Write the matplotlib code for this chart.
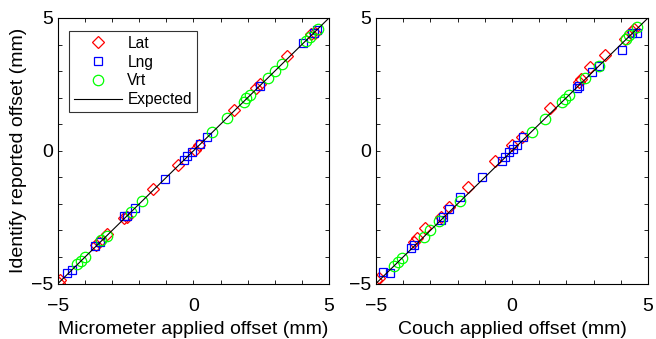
import matplotlib
matplotlib.use("Agg")
import matplotlib.pyplot as plt
from matplotlib.ticker import MultipleLocator, FixedLocator

plt.rcParams['font.family'] = ['Liberation Sans', 'DejaVu Sans']

# ---- data: Micrometer (left) ----
mic_lat_x = [-4.98, -4.92, -3.6, -3.5, -3.2, -2.55, -2.45, -1.5, -0.58, 0.05, 0.22, 1.5, 2.3, 2.45, 3.45, 4.35, 4.5]
mic_lat_y = [-4.98, -4.88, -3.55, -3.45, -3.12, -2.55, -2.5, -1.45, -0.55, 0.02, 0.2, 1.55, 2.35, 2.5, 3.55, 4.38, 4.45]
mic_lng_x = [-4.65, -4.5, -3.65, -3.45, -2.55, -2.45, -2.15, -1.05, -0.35, -0.25, -0.05, 0.25, 0.5, 2.45, 4.05, 4.45, 4.55]
mic_lng_y = [-4.6, -4.5, -3.6, -3.45, -2.45, -2.45, -2.15, -1.05, -0.35, -0.2, -0.05, 0.25, 0.5, 2.45, 4.05, 4.45, 4.55]
mic_vrt_x = [-4.3, -4.15, -4.0, -3.4, -3.2, -2.3, -1.9, 0.7, 1.25, 1.85, 1.95, 2.1, 2.75, 3.0, 3.25, 4.15, 4.3, 4.6]
mic_vrt_y = [-4.28, -4.15, -4.0, -3.38, -3.2, -2.3, -1.88, 0.72, 1.25, 1.85, 1.97, 2.1, 2.75, 3.02, 3.27, 4.15, 4.3, 4.6]

# ---- data: Couch (right) ----
cou_lat_x = [-5.0, -4.9, -3.6, -3.5, -3.2, -2.6, -2.3, -1.6, -0.62, 0.0, 0.35, 1.4, 2.45, 2.55, 2.87, 3.42, 4.15, 4.4, 4.5]
cou_lat_y = [-4.85, -4.8, -3.45, -3.3, -2.9, -2.5, -2.1, -1.35, -0.4, 0.22, 0.5, 1.6, 2.6, 2.7, 3.15, 3.6, 4.2, 4.5, 4.6]
cou_lng_x = [-4.75, -4.5, -3.7, -3.6, -2.6, -2.55, -2.3, -1.9, -1.1, -0.35, -0.25, -0.1, 0.05, 0.2, 0.4, 2.4, 2.45, 2.95, 3.2, 4.05, 4.4, 4.6]
cou_lng_y = [-4.55, -4.6, -3.65, -3.55, -2.6, -2.5, -2.2, -1.75, -1.0, -0.37, -0.22, -0.05, 0.05, 0.2, 0.5, 2.35, 2.45, 2.95, 3.2, 3.8, 4.45, 4.45]
cou_vrt_x = [-4.35, -4.2, -4.05, -3.25, -3.0, -2.7, -1.9, 0.72, 1.2, 1.85, 1.95, 2.1, 2.7, 3.2, 4.2, 4.3, 4.6]
cou_vrt_y = [-4.35, -4.2, -4.05, -3.24, -3.0, -2.65, -1.9, 0.72, 1.2, 1.85, 1.95, 2.1, 2.75, 3.2, 4.2, 4.35, 4.65]

expected = [-5, 5]
ticks = [-5, 0, 5]
series_names = ['Lat', 'Lng', 'Vrt', 'Expected']
xlabels = ['Micrometer applied offset (mm)', 'Couch applied offset (mm)']
ylabel = 'Identify reported offset (mm)'

fig = plt.figure(figsize=(6.56, 3.39), dpi=100)
ax1 = fig.add_axes([58/656, 55.5/339, 271/656, 265.5/339])
ax2 = fig.add_axes([376/656, 55.5/339, 272/656, 265.5/339])

FS = 14
LFS = 11.2

def draw(ax, lat, lng, vrt, xlabel):
    ax.plot(lat[0], lat[1], linestyle='none', marker='D', ms=5.8, mfc='none', mec='#ff0000', mew=0.9, label=series_names[0])
    ax.plot(lng[0], lng[1], linestyle='none', marker='s', ms=5.5, mfc='none', mec='#0000ff', mew=0.9, label=series_names[1])
    ax.plot(vrt[0], vrt[1], linestyle='none', marker='o', ms=7.5, mfc='none', mec='#00ff00', mew=0.9, label=series_names[2])
    ax.plot(expected, expected, color='black', lw=0.8, label=series_names[3])
    ax.set_xlim(-5, 5)
    ax.set_ylim(-5, 5)
    ax.xaxis.set_major_locator(FixedLocator(ticks))
    ax.yaxis.set_major_locator(FixedLocator(ticks))
    ax.xaxis.set_minor_locator(MultipleLocator(1))
    ax.yaxis.set_minor_locator(MultipleLocator(1))
    ax.tick_params(which='both', direction='in', top=True, right=True, length=3, width=0.6, labelsize=FS)
    ax.tick_params(axis='x', which='major', pad=10.2)
    ax.tick_params(axis='y', which='major', pad=3.5)
    for s in ax.spines.values():
        s.set_linewidth(0.8)
    ax.set_xlabel(xlabel, fontsize=FS, labelpad=4.7)

draw(ax1, (mic_lat_x, mic_lat_y), (mic_lng_x, mic_lng_y), (mic_vrt_x, mic_vrt_y), xlabels[0])
draw(ax2, (cou_lat_x, cou_lat_y), (cou_lng_x, cou_lng_y), (cou_vrt_x, cou_vrt_y), xlabels[1])
ax1.set_ylabel(ylabel, fontsize=FS, labelpad=3)

leg = ax1.legend(loc='upper left', bbox_to_anchor=(11/271, 1 - 13/266), borderaxespad=0,
                 fontsize=LFS, frameon=True, fancybox=False, edgecolor='black',
                 handlelength=3.1, handletextpad=0.35, labelspacing=0.25, borderpad=0.3)
leg.get_frame().set_linewidth(0.8)

fig.savefig('out.png', dpi=100)
